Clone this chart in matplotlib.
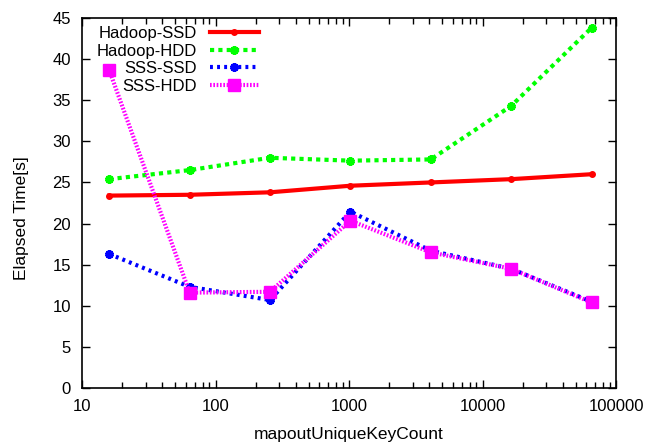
import matplotlib
matplotlib.use("Agg")
import matplotlib.pyplot as plt
from matplotlib.ticker import LogLocator, FixedLocator, NullFormatter

plt.rcParams['font.family'] = ['Liberation Sans', 'DejaVu Sans']

# data
key_count = [16, 64, 256, 1024, 4096, 16384, 65536]
hadoop_ssd = [23.4, 23.5, 23.8, 24.6, 25.0, 25.4, 26.0]
hadoop_hdd = [25.4, 26.5, 28.0, 27.65, 27.8, 34.3, 43.8]
sss_ssd = [16.3, 12.3, 10.7, 21.45, 16.7, 14.5, 10.5]
sss_hdd = [38.65, 11.6, 11.7, 20.35, 16.5, 14.5, 10.4]

fig = plt.figure(figsize=(6.49, 4.43), dpi=100)
ax = fig.add_axes([82 / 649, 1 - 388 / 443, 534 / 649, 370 / 443])

ax.plot(key_count, hadoop_ssd, color='#ff0000', lw=3, marker='o', ms=4,
        label='Hadoop-SSD')
ax.plot(key_count, hadoop_hdd, color='#00ff00', lw=3, ls=(0, (1, 1)),
        marker=(6, 2, 0), ms=6, mew=2.5, label='Hadoop-HDD')
ax.plot(key_count, sss_ssd, color='#0000ff', lw=3, ls=(0, (0.7, 1.0)),
        marker=(6, 2, 0), ms=6, mew=2.5, label='SSS-SSD')
ax.plot(key_count, sss_hdd, color='#ff00ff', lw=3, ls=(0, (0.4, 0.4)),
        marker='s', ms=9, label='SSS-HDD')

ax.set_xscale('log')
ax.set_xlim(10, 100000)
ax.set_ylim(0, 45)
ax.xaxis.set_major_locator(FixedLocator([10, 100, 1000, 10000, 100000]))
ax.xaxis.set_minor_locator(LogLocator(base=10, subs=range(2, 10)))
ax.xaxis.set_minor_formatter(NullFormatter())
ax.set_xticklabels(['10', '100', '1000', '10000', '100000'])
ax.set_yticks(range(0, 46, 5))

ax.tick_params(which='both', direction='in', top=True, right=True,
               labelsize=12, width=1)
ax.tick_params(which='major', length=6, pad=8)
ax.tick_params(which='minor', length=4)
for s in ax.spines.values():
    s.set_linewidth(1.2)

ax.set_xlabel('mapoutUniqueKeyCount', fontsize=12.5, labelpad=9)
ax.set_ylabel('Elapsed Time[s]', fontsize=12.5)
ax.yaxis.set_label_coords(-0.10, 0.46)

ax.legend(loc='upper left', bbox_to_anchor=(0.012, 1.0), frameon=False,
          markerfirst=False, fontsize=12, handlelength=2.9,
          labelspacing=0.15, borderaxespad=0.1)

fig.savefig('out.png', dpi=100)
